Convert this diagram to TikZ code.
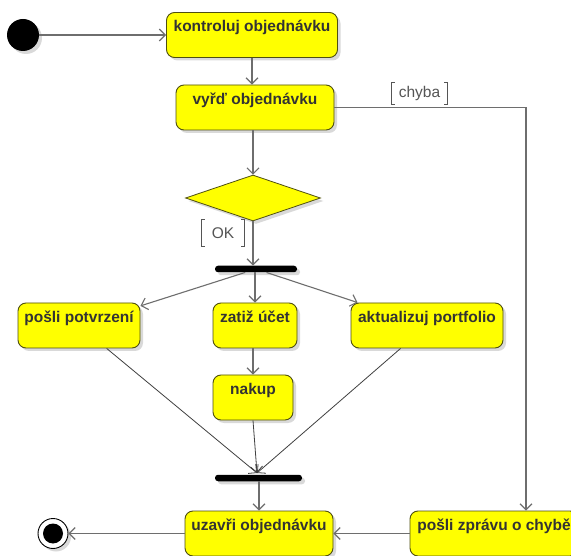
\documentclass[tikz,border=0pt]{standalone}
\usepackage{fontspec}
\setmainfont{Liberation Sans}
\usetikzlibrary{arrows.meta,shapes.geometric,shadows,calc}
\definecolor{boxfill}{HTML}{FFFF00}
\definecolor{boxline}{HTML}{4F4F10}
\definecolor{txt}{HTML}{333333}
\definecolor{edgecol}{HTML}{6E6E6E}
\definecolor{thincol}{HTML}{404040}
\definecolor{guardcol}{HTML}{555555}
\begin{document}
\begin{tikzpicture}[x=1pt,y=-1pt,
  shad/.style={drop shadow={shadow xshift=3pt,shadow yshift=-3pt,opacity=0.15,fill=black}},
  act/.style={draw=boxline, fill=boxfill, rounded corners=8pt, line width=0.9pt,
    text=txt, font=\fontsize{15.5}{18}\selectfont\bfseries,
    inner xsep=0pt, inner ysep=0pt, text height=19.5pt, text depth=25.5pt,
    minimum height=45pt, shad},
  dec/.style={diamond, draw=boxline, fill=boxfill, line width=0.8pt, inner sep=0pt,
    minimum width=135pt, minimum height=46pt, shad},
  bar/.style={rectangle, fill=black, rounded corners=3pt, inner sep=0pt, minimum height=6.5pt, shad},
  flow/.style={draw=edgecol, line width=1.1pt, -{Straight Barb[length=6pt,width=12pt]}},
  thinflow/.style={draw=thincol, line width=0.8pt, -{Straight Barb[length=6pt,width=12pt]}},
  guard/.style={text=guardcol, font=\fontsize{15.5}{18}\selectfont, inner sep=0pt},
  brk/.style={draw=guardcol, line width=0.8pt}
]
\useasboundingbox (0,0) rectangle (571,556);
\fill[white] (0,0) rectangle (571,556);

% start and end
\node[circle, fill=black, minimum size=32pt, inner sep=0pt, shad] (start) at (23,35) {};
\node[circle, draw=black, line width=0.9pt, fill=white, minimum size=30pt, inner sep=0pt, shad] (end) at (53,533.5) {};
\node[circle, fill=black, minimum size=20pt, inner sep=0pt] (endin) at (end.center) {};

% activities
\node[act, minimum width=171pt] (kon) at (252,35) {kontroluj objednávku};
\node[act, minimum width=158pt] (vyr) at (255,107.5) {vyřď objednávku};
\node[dec] (dia) at (253,198) {};
\node[bar, minimum width=82pt] (bar1) at (256,269) {};
\node[act, minimum width=122pt] (pot) at (79,325.5) {pošli potvrzení};
\node[act, minimum width=84pt] (zat) at (255,325.5) {zatiž účet};
\node[act, minimum width=152pt] (akt) at (427,325.5) {aktualizuj portfolio};
\node[act, minimum width=80pt] (nak) at (253,397.5) {nakup};
\node[bar, minimum width=87pt] (bar2) at (258.5,478) {};
\node[act, minimum width=148pt] (uza) at (259,533.5) {uzavři objednávku};
\node[act, minimum width=168pt] (zpr) at (494,533.5) {pošli zprávu o chybě};

% guards
\node[guard, minimum width=55pt, minimum height=21pt] (chyba) at (419.5,93.5) {chyba};
\draw[brk] ([xshift=3pt]chyba.north west) -- (chyba.north west) -- (chyba.south west) -- ([xshift=3pt]chyba.south west);
\draw[brk] ([xshift=-3pt]chyba.north east) -- (chyba.north east) -- (chyba.south east) -- ([xshift=-3pt]chyba.south east);
\node[guard, minimum width=42pt, minimum height=26pt] (ok) at (223,233) {OK};
\draw[brk] ([xshift=3pt]ok.north west) -- (ok.north west) -- (ok.south west) -- ([xshift=3pt]ok.south west);
\draw[brk] ([xshift=-3pt]ok.north east) -- (ok.north east) -- (ok.south east) -- ([xshift=-3pt]ok.south east);

% connectors
\coordinate (cb) at (526,107.5);
\coordinate (j) at (257,473);
\draw[flow] (start) -- (kon);
\draw[flow] (kon.south) -- (kon.south |- vyr.north);
\draw[flow] (vyr.south -| dia.north) -- (dia.north);
\draw[flow, -] (vyr.east) -- (cb);
\draw[flow] (cb) -- (cb |- zpr.north);
\draw[flow] (dia.south) -- (dia.south |- bar1.north);
\draw[flow] (bar1) -- (pot);
\draw[flow] (bar1.south -| zat.north) -- (zat.north);
\draw[flow] (bar1) -- (akt);
\draw[flow] (zat.south -| nak.north) -- (nak.north);
\draw[thinflow] (pot) -- (j);
\draw[thinflow] (nak.south) -- (j);
\draw[thinflow] (akt) -- (j);
\draw[flow] (bar2.south -| uza.north) -- (uza.north);
\draw[flow] (zpr) -- (uza);
\draw[flow] (uza) -- (end);
\end{tikzpicture}
\end{document}
